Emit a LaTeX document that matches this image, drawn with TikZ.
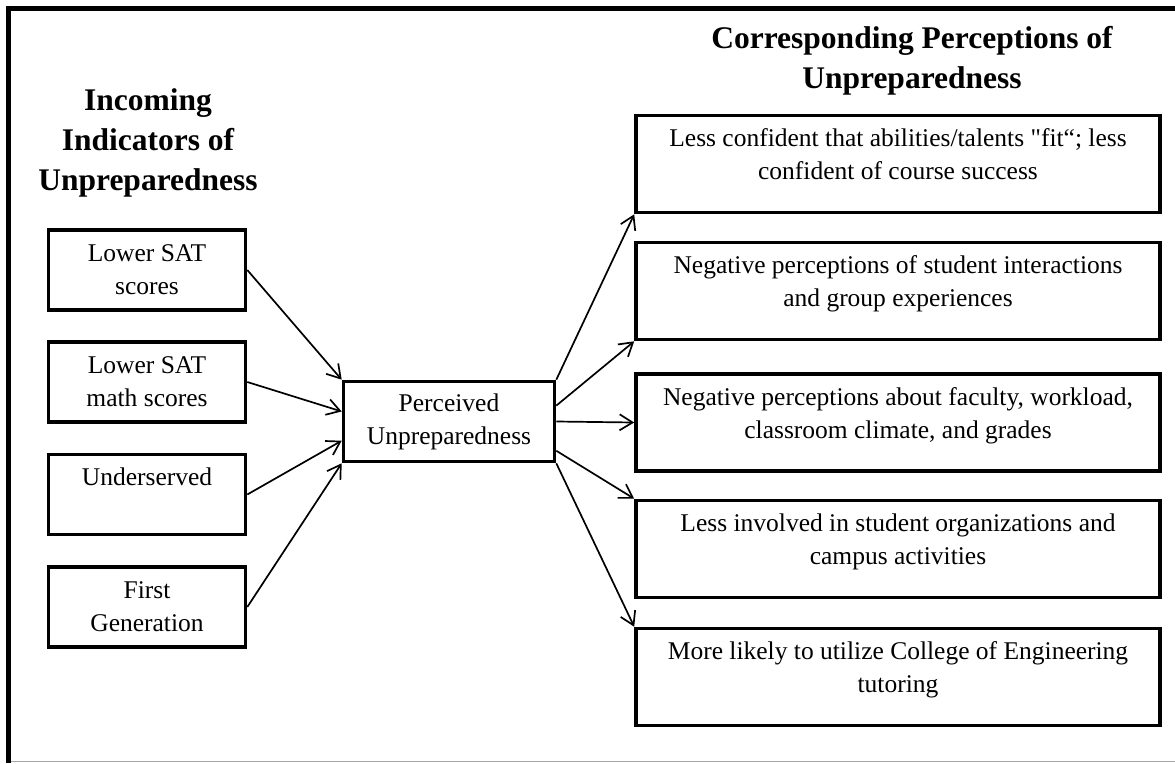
\documentclass[tikz,border=0pt]{standalone}
\usepackage{fontspec}
\setmainfont{Liberation Serif}
\usetikzlibrary{arrows.meta,calc}
% straight double quote, set as a glyph so no ligature mapping touches it
\newcommand{\straightquote}{\XeTeXglyph\XeTeXcharglyph"0022\relax}
\begin{document}
\begin{tikzpicture}[x=1pt,y=-1pt,
  box/.style={draw, line width=3.6pt, inner sep=0pt},
  leftbox/.style={box, minimum width=197pt, minimum height=80pt},
  rightbox/.style={box, minimum width=524pt, minimum height=97pt},
  boxtext/.style={anchor=base, align=center, inner sep=0pt,
    font=\fontsize{25.5}{33}\selectfont},
  heading/.style={anchor=base, align=center, inner sep=0pt,
    font=\fontsize{31.5}{40}\selectfont\bfseries},
  link/.style={line width=1.7pt,
    -{Straight Barb[length=13pt,width=16pt,line width=1.7pt]}},
  ]
\useasboundingbox (0,0) rectangle (1175,763);

% outer frame: heavy rule on the left and top, thin grey rule at the bottom
\draw[line width=5pt] (8.5,763) -- (8.5,8.5) -- (1175,8.5);
\draw[gray!70, line width=1.2pt] (11,761.8) -- (1175,761.8);

% column headings (anchored on the baseline of their last line)
\node[heading] (hin) at (148,190) {Incoming\\Indicators of\\Unpreparedness};
\node[heading] (hout) at (912,88) {Corresponding Perceptions of\\Unpreparedness};

% incoming indicators
\node[leftbox] (l1) at (147,270) {};
\node[leftbox] (l2) at (147,382) {};
\node[leftbox] (l3) at (147,494.5) {};
\node[leftbox] (l4) at (147,607) {};
\node[boxtext] (l1t) at ($(l1.north)+(0,66)$) {Lower SAT\\scores};
\node[boxtext] (l2t) at ($(l2.north)+(0,66)$) {Lower SAT\\math scores};
\node[boxtext] (l3t) at ($(l3.north)+(0,33)$) {Underserved};
\node[boxtext] (l4t) at ($(l4.north)+(0,66)$) {First\\Generation};

% central construct
\node[box, minimum width=211pt, minimum height=80pt] (c) at (449,421.5) {};
\node[boxtext] (ct) at ($(c.north)+(0,65)$) {Perceived\\Unpreparedness};

% corresponding perceptions
\node[rightbox] (r1) at (898,164) {};
\node[rightbox] (r2) at (898,291) {};
\node[rightbox] (r3) at (898,422.5) {};
\node[rightbox] (r4) at (898,549) {};
\node[rightbox] (r5) at (898,677) {};
\node[boxtext] (r1t) at ($(r1.north)+(0,66)$) {Less confident that abilities/talents \straightquote fit“; less\\confident of course success};
\node[boxtext] (r2t) at ($(r2.north)+(0,66)$) {Negative perceptions of student interactions\\and group experiences};
\node[boxtext] (r3t) at ($(r3.north)+(0,66)$) {Negative perceptions about faculty, workload,\\classroom climate, and grades};
\node[boxtext] (r4t) at ($(r4.north)+(0,66)$) {Less involved in student organizations and\\campus activities};
\node[boxtext] (r5t) at ($(r5.north)+(0,66)$) {More likely to utilize College of Engineering\\tutoring};

% indicators feed the central box
\draw[link] (l1.east) -- (c.north west);
\draw[link] (l2.east) -- ($(c.north west)!0.38!(c.south west)$);
\draw[link] (l3.east) -- ($(c.north west)!0.73!(c.south west)$);
\draw[link] (l4.east) -- (c.south west);

% central box fans out to the perceptions
\draw[link] (c.north east) -- (r1.south west);
\draw[link] ($(c.north east)!0.31!(c.south east)$) -- (r2.south west);
\draw[link] (c.east) -- (r3.west);
\draw[link] ($(c.north east)!0.85!(c.south east)$) -- (r4.north west);
\draw[link] (c.south east) -- (r5.north west);
\end{tikzpicture}
\end{document}
